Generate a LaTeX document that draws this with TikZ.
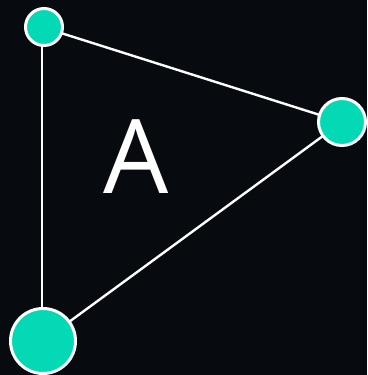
\documentclass[tikz,border=0pt]{standalone}
\usepackage{fontspec}
\setmainfont{Open Sans}
\definecolor{bg}{HTML}{070A0F}
\definecolor{teal}{HTML}{03D9B4}
\begin{document}
\begin{tikzpicture}[x=1pt,y=-1pt,
  vert/.style={circle,draw=white,line width=3pt,fill=teal,inner sep=0pt},
  edge/.style={draw=white,line width=2.4pt}]
\fill[bg] (0,0) rectangle (367,375);
\useasboundingbox (0,0) rectangle (367,375);
\coordinate (c1) at (44,27);
\coordinate (c2) at (342,122);
\coordinate (c3) at (43,341);
\draw[edge] ([xshift=-2pt]c1) -- (c2);
\draw[edge] ([xshift=-2pt]c1) -- ([xshift=-1pt]c3);
\draw[edge] (c3) -- (c2);
\node[vert,minimum size=37pt] (v1) at (c1) {};
\node[vert,minimum size=47pt] (v2) at (c2) {};
\node[vert,minimum size=65pt] (v3) at (c3) {};
\node[text=white,font=\fontsize{103}{103}\selectfont,inner sep=0pt] (lab) at (136,157) {A};
\end{tikzpicture}
\end{document}
